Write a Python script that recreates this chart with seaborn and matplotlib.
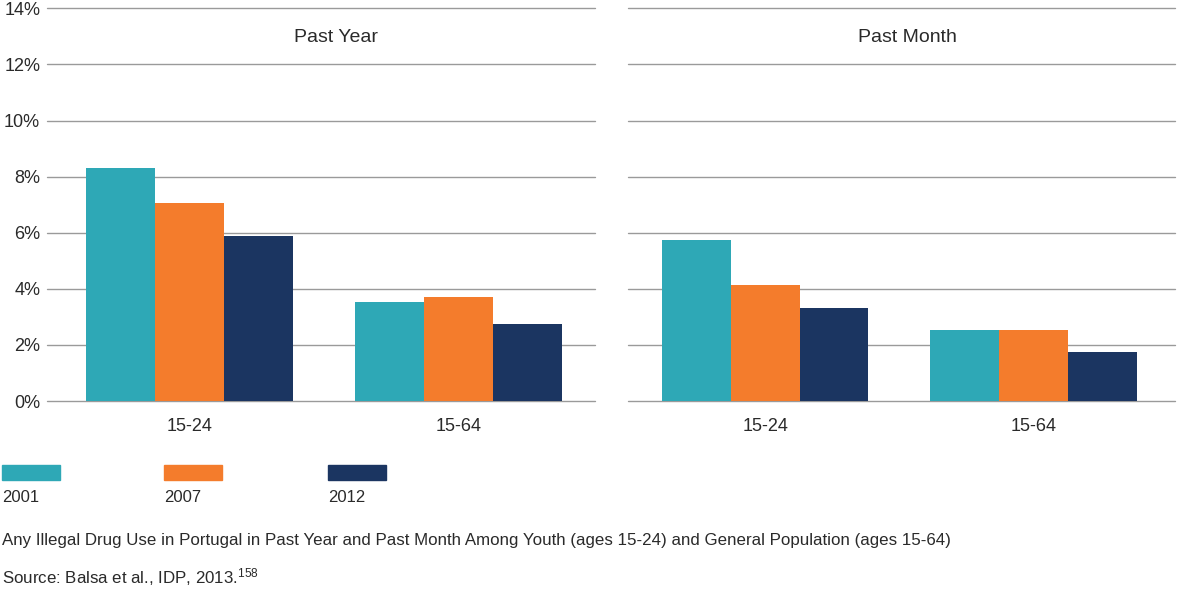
import matplotlib
matplotlib.use("Agg")
import matplotlib.pyplot as plt
from matplotlib.patches import Rectangle
import numpy as np
import pandas as pd
import seaborn as sns

# data
ages = ["15-24", "15-64"]
years = ["2001", "2007", "2012"]
past_year = {"2001": [8.3, 3.53], "2007": [7.05, 3.7], "2012": [5.88, 2.75]}
past_month = {"2001": [5.74, 2.55], "2007": [4.13, 2.55], "2012": [3.31, 1.75]}
panels = ["Past Year", "Past Month"]
colors = ["#2EA8B6", "#F47C2C", "#1B3561"]

rows = []
for panel, d in zip(panels, [past_year, past_month]):
    for y in years:
        for a, v in zip(ages, d[y]):
            rows.append({"panel": panel, "age": a, "year": y, "value": v})
df = pd.DataFrame(rows)

sns.set_style("white")
plt.rcParams["font.family"] = ["Liberation Sans", "DejaVu Sans"]
plt.rcParams["mathtext.default"] = "regular"
txt = "#2a2a2a"

fig = plt.figure(figsize=(11.79, 5.95), dpi=100)
ax1 = fig.add_axes([0.040, 0.326, 0.465, 0.660])
ax2 = fig.add_axes([0.533, 0.326, 0.464, 0.660])

title_x = [0.526, 0.51]
xlims = [(-0.53, 1.51), (-0.51, 1.53)]
for ax, panel, tx, xl in zip([ax1, ax2], panels, title_x, xlims):
    sub = df[df.panel == panel]
    sns.barplot(data=sub, x="age", y="value", hue="year", palette=colors,
                order=ages, hue_order=years, width=0.77, saturation=1,
                linewidth=0, errorbar=None, ax=ax, legend=False)
    ax.set_ylim(0, 14)
    ax.set_xlim(*xl)
    ax.set_yticks(np.arange(0, 15, 2))
    ax.yaxis.grid(True, color="#9a9a9a", linewidth=1)
    for gl in ax.get_ygridlines():
        gl.set_clip_on(False)
    ax.set_axisbelow(True)
    for s in ax.spines.values():
        s.set_visible(False)
    ax.set_xlabel("")
    ax.set_ylabel("")
    ax.tick_params(axis="both", length=0, labelsize=13, colors=txt)
    ax.tick_params(axis="x", pad=12)
    ax.text(tx, 0.926, panel, transform=ax.transAxes, ha="center", va="center",
            fontsize=14, color=txt)

ax1.set_yticklabels([f"{t}%" for t in range(0, 15, 2)])
ax1.tick_params(axis="y", pad=5)
ax2.set_yticklabels([])

# legend: swatch with label underneath
W, H = 1179, 595
for i, (yr, c) in enumerate(zip(years, colors)):
    x0 = [2, 164, 328][i]
    fig.patches.append(Rectangle((x0 / W, 1 - 480 / H), 58 / W, 15 / H,
                                 transform=fig.transFigure, color=c))
    fig.text(x0 / W, 1 - 497 / H, yr, ha="left", va="center", fontsize=12, color=txt)

fig.text(2 / W, 1 - 541 / H,
         "Any Illegal Drug Use in Portugal in Past Year and Past Month Among Youth "
         "(ages 15-24) and General Population (ages 15-64)",
         ha="left", va="center", fontsize=12.2, color=txt)
fig.text(2 / W, 1 - 577 / H, "Source: Balsa et al., IDP, 2013.$^{158}$",
         ha="left", va="center", fontsize=12.2, color=txt)

fig.savefig("out.png", dpi=100)
